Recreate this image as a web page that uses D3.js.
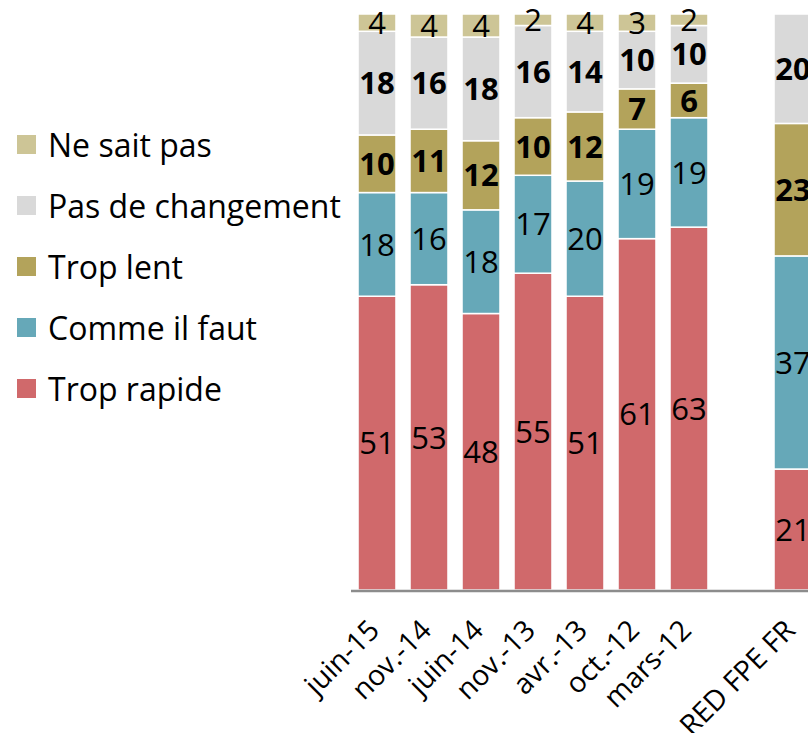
<!DOCTYPE html>
<html>
<head>
<meta charset="utf-8">
<script src="https://cdn.jsdelivr.net/npm/d3@7"></script>
<style>
  body { margin: 0; background: #fff; }
  svg { display: block; font-family: "Open Sans", sans-serif; }
</style>
</head>
<body>
<svg id="chart" width="808" height="733"></svg>
<script>
// categories, with an empty slot before the reference bar
var categories = ['juin-15', 'nov.-14', 'juin-14', 'nov.-13', 'avr.-13', 'oct.-12', 'mars-12', '', 'RED FPE FR'];

var tropRapide      = [51, 53, 48, 55, 51, 61, 63, null, 21];
var commeIlFaut     = [18, 16, 18, 17, 20, 19, 19, null, 37];
var tropLent        = [10, 11, 12, 10, 12, 7, 6, null, 23];
var pasDeChangement = [18, 16, 18, 16, 14, 10, 10, null, 20];
var neSaitPas       = [4, 4, 4, 2, 4, 3, 2, null, 0];

// bottom to top
var series = [
  { name: 'Trop rapide', values: tropRapide, color: '#d0696b', bold: false },
  { name: 'Comme il faut', values: commeIlFaut, color: '#66a8b8', bold: false },
  { name: 'Trop lent', values: tropLent, color: '#b3a35b', bold: true },
  { name: 'Pas de changement', values: pasDeChangement, color: '#d9d9d9', bold: true },
  { name: 'Ne sait pas', values: neSaitPas, color: '#cdc596', bold: false }
];

var svg = d3.select('#chart');

var x = d3.scaleBand()
  .domain(categories)
  .range([351, 819])
  .paddingInner(0.27)
  .paddingOuter(0.135);

var y = d3.scaleLinear()
  .domain([0, 100])
  .range([590, 14])
  .clamp(true);

// build stacked segments
var segs = [];
categories.forEach(function (c, i) {
  var base = 0;
  series.forEach(function (s) {
    var v = s.values[i];
    if (v === null) return;
    segs.push({ cat: c, y0: base, y1: base + v, v: v, s: s });
    base += v;
  });
});
segs = segs.filter(function (d) { return d.v > 0; });

var bars = svg.append('g');
bars.selectAll('rect')
  .data(segs)
  .enter()
  .append('rect')
  .attr('x', function (d) { return x(d.cat); })
  .attr('width', x.bandwidth())
  .attr('y', function (d) { return y(d.y1); })
  .attr('height', function (d) { return y(d.y0) - y(d.y1); })
  .attr('fill', function (d) { return d.s.color; })
  .attr('stroke', '#fff')
  .attr('stroke-width', 1.5);

var labels = svg.append('g');
labels.selectAll('text')
  .data(segs)
  .enter()
  .append('text')
  .attr('x', function (d) { return x(d.cat) + x.bandwidth() / 2; })
  .attr('y', function (d) { return (y(d.y0) + y(d.y1)) / 2; })
  .attr('dy', '0.36em')
  .attr('text-anchor', 'middle')
  .attr('font-size', 31)
  .attr('font-weight', function (d) { return d.s.bold ? 'bold' : 'normal'; })
  .attr('fill', '#000')
  .text(function (d) { return d.v; });

// x axis
svg.append('line')
  .attr('x1', 351).attr('x2', 808)
  .attr('y1', 591).attr('y2', 591)
  .attr('stroke', '#8c8c8c')
  .attr('stroke-width', 2.5);

svg.append('g').selectAll('text')
  .data(categories.filter(function (c) { return c !== ''; }))
  .enter()
  .append('text')
  .attr('transform', function (c) {
    return 'translate(' + (x(c) + x.bandwidth() / 2 + 4) + ',632) rotate(-45)';
  })
  .attr('text-anchor', 'end')
  .attr('font-size', 28.5)
  .attr('fill', '#000')
  .text(function (c) { return c; });

// legend
var legendItems = series.slice().reverse();
var lg = svg.append('g').selectAll('g')
  .data(legendItems)
  .enter()
  .append('g')
  .attr('transform', function (d, i) { return 'translate(17,' + (145 + i * 61) + ')'; });

lg.append('rect')
  .attr('x', 0).attr('y', -10)
  .attr('width', 19).attr('height', 19)
  .attr('fill', function (d) { return d.color; });

lg.append('text')
  .attr('x', 31)
  .attr('dy', '0.36em')
  .attr('font-size', 32)
  .attr('fill', '#000')
  .text(function (d) { return d.name; });
</script>
</body>
</html>
